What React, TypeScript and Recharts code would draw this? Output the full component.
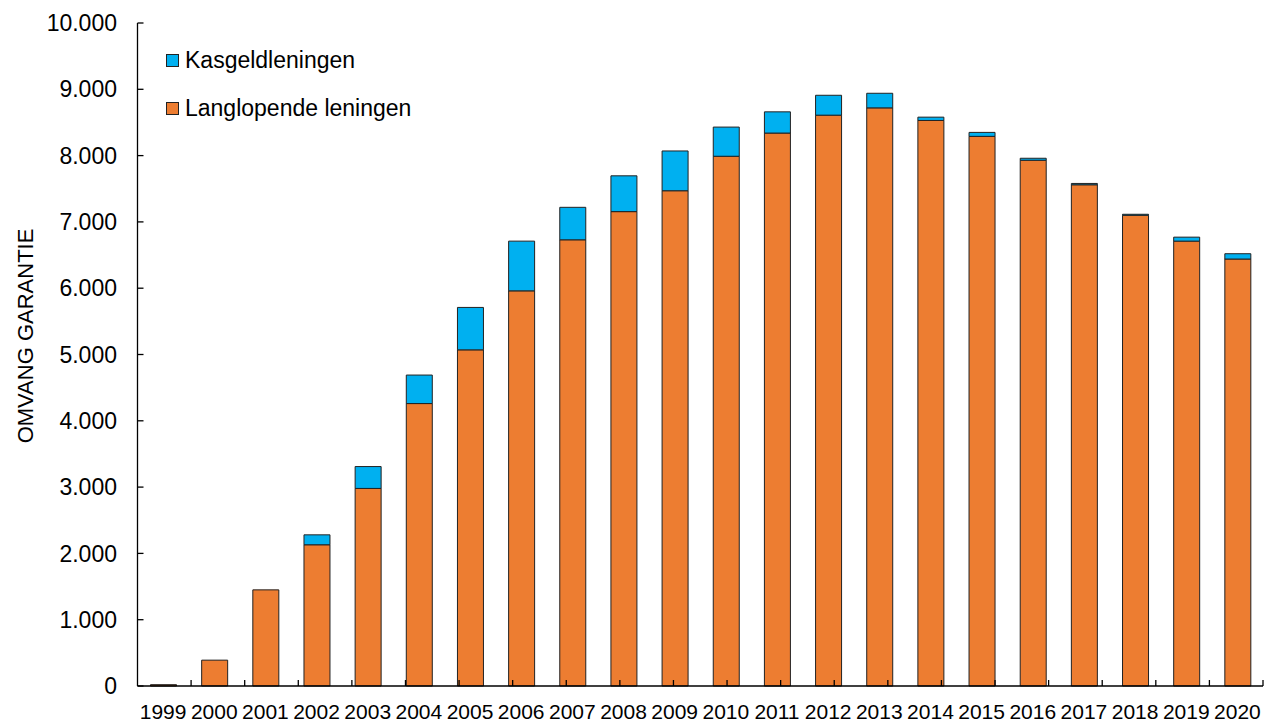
import React from 'react';
import { BarChart, Bar, XAxis, YAxis } from 'recharts';

const years = ['1999','2000','2001','2002','2003','2004','2005','2006','2007','2008','2009','2010','2011','2012','2013','2014','2015','2016','2017','2018','2019','2020'];
const langlopend = [20, 390, 1450, 2130, 2980, 4260, 5070, 5960, 6730, 7155, 7470, 7990, 8340, 8610, 8720, 8530, 8290, 7930, 7560, 7100, 6710, 6440];
const kasgeld = [0, 0, 0, 150, 330, 430, 640, 750, 490, 540, 600, 440, 320, 300, 220, 50, 60, 30, 20, 15, 60, 80];
const yTicks = [0, 1000, 2000, 3000, 4000, 5000, 6000, 7000, 8000, 9000, 10000];
const boundaryTicks = years.map((_, i) => i + 1);

const series = [
  { key: 'kas', name: 'Kasgeldleningen', color: '#00B0F0' },
  { key: 'lang', name: 'Langlopende leningen', color: '#ED7D31' },
];

const data = years.map((year, i) => ({ year, lang: langlopend[i], kas: kasgeld[i] }));

const FONT = '"Liberation Sans", Arial, sans-serif';

const fmt = (v: number) => {
  if (v < 1000) return String(v);
  const th = Math.floor(v / 1000);
  const rest = String(v % 1000).padStart(3, '0');
  return `${th}.${rest}`;
};

export default function App() {
  return (
    <div style={{ position: 'absolute', left: 0, top: 0, width: 1264, height: 720, background: '#fff', fontFamily: FONT }}>
      <BarChart
        width={1264}
        height={720}
        data={data}
        margin={{ top: 23, right: 1, bottom: 0, left: 0 }}
        barCategoryGap={0}
      >
        <XAxis
          xAxisId={0}
          type="number"
          domain={[0, 22]}
          ticks={boundaryTicks}
          interval={0}
          height={1}
          tick={<g />}
          tickSize={-6}
          stroke="#000"
          axisLine={{ stroke: '#000', strokeWidth: 1.3 }}
          tickLine={{ stroke: '#000', strokeWidth: 1.3 }}
          allowDataOverflow
        />
        <XAxis
          xAxisId={1}
          dataKey="year"
          interval={0}
          height={33}
          axisLine={false}
          tickLine={false}
          tickSize={0}
          tickMargin={17}
          tick={{ fill: '#000', fontSize: 21, fontFamily: FONT }}
        />
        <YAxis
          width={137.5}
          domain={[0, 10000]}
          ticks={yTicks}
          interval={0}
          tickFormatter={fmt}
          tickSize={-6}
          tickMargin={26.5}
          stroke="#000"
          axisLine={{ stroke: '#000', strokeWidth: 1.3 }}
          tickLine={{ stroke: '#000', strokeWidth: 1.3 }}
          tick={{ fill: '#000', fontSize: 23, fontFamily: FONT }}
          label={{
            content: () => (
              <text
                transform="translate(33,336) rotate(-90)"
                textAnchor="middle"
                fill="#000"
                fontSize={22}
                fontFamily={FONT}
              >
                OMVANG GARANTIE
              </text>
            ),
          }}
        />
        <Bar xAxisId={1} dataKey="lang" name="Langlopende leningen" stackId="a" fill="#ED7D31" stroke="#222" strokeWidth={1} barSize={26} isAnimationActive={false} />
        <Bar xAxisId={1} dataKey="kas" name="Kasgeldleningen" stackId="a" fill="#00B0F0" stroke="#222" strokeWidth={1} barSize={26} isAnimationActive={false} />
      </BarChart>
      <div style={{ position: 'absolute', left: 166, top: 36 }}>
        {series.map((s) => (
          <div key={s.key} style={{ display: 'flex', alignItems: 'center', height: 48 }}>
            <div style={{ width: 11, height: 11, background: s.color, border: '1px solid #222', marginRight: 6 }} />
            <span style={{ fontSize: 23, color: '#000', fontFamily: FONT, lineHeight: '24px' }}>{s.name}</span>
          </div>
        ))}
      </div>
    </div>
  );
}
